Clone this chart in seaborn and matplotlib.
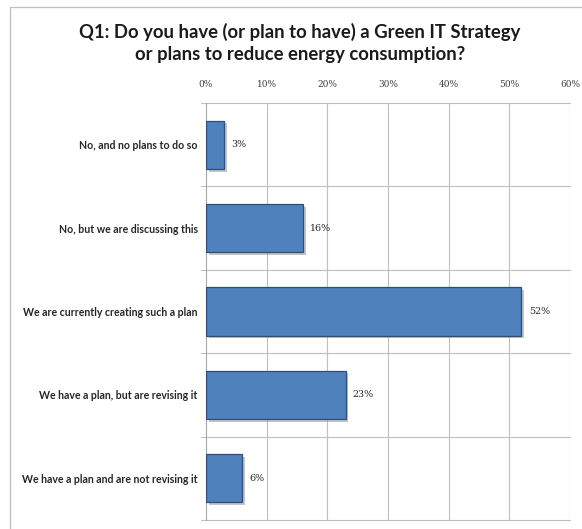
import matplotlib
matplotlib.use("Agg")
import matplotlib.pyplot as plt
import matplotlib.patheffects as pe
import seaborn as sns
import pandas as pd

categories = [
    "No, and no plans to do so",
    "No, but we are discussing this",
    "We are currently creating such a plan",
    "We have a plan, but are revising it",
    "We have a plan and are not revising it",
]
values = [3, 16, 52, 23, 6]
x_ticks = [0, 10, 20, 30, 40, 50, 60]
x_tick_labels = [f"{t}%" for t in x_ticks]
title = "Q1: Do you have (or plan to have) a Green IT Strategy\nor plans to reduce energy consumption?"

df = pd.DataFrame({"category": categories, "value": values})

sns.set_theme(style="white")
plt.rcParams["font.family"] = ["Lato", "DejaVu Sans"]

fig = plt.figure(figsize=(5.82, 5.29), dpi=100)
ax = fig.add_axes([206 / 582, 1 - 520 / 529, 364 / 582, 417 / 529])

sns.barplot(data=df, x="value", y="category", orient="h", color="#4F81BD",
            saturation=1, width=0.58, ax=ax, zorder=3)
for bar in ax.patches:
    bar.set_edgecolor("#2F4F7A")
    bar.set_linewidth(0.9)
    bar.set_path_effects([pe.SimplePatchShadow(offset=(2, -2), shadow_rgbFace="#808080", alpha=0.45),
                          pe.Normal()])

ax.set_xlim(0, 60)
ax.set_ylim(len(categories) - 0.5, -0.5)
ax.set_xticks(x_ticks)
ax.set_xticklabels(x_tick_labels, fontsize=6.5, color="#404040", family=["DejaVu Serif"])
ax.xaxis.tick_top()
ax.tick_params(axis="x", length=0, pad=10, top=True, bottom=False)

# vertical gridlines
for t in x_ticks[1:]:
    ax.axvline(t, color="#BFBFBF", lw=0.8, zorder=1)

# horizontal separators between categories, with small tick stubs to the left
for b in [i - 0.5 for i in range(len(categories) + 1)]:
    ax.plot([-0.9, 60], [b, b], color="#BFBFBF", lw=0.8, zorder=1, clip_on=False)

ax.set_yticks(range(len(categories)))
ax.set_yticklabels(categories, fontsize=7.6, color="#262626", fontweight="bold")
ax.tick_params(axis="y", length=0, pad=6)
ax.set_xlabel("")
ax.set_ylabel("")

for s in ["top", "right", "bottom"]:
    ax.spines[s].set_visible(False)
ax.spines["left"].set_color("#A6A6A6")
ax.spines["left"].set_linewidth(0.8)

for i, v in enumerate(values):
    ax.text(v + 1.2, i, f"{v}%", va="center", ha="left", fontsize=6.8,
            color="#262626", family=["DejaVu Serif"])

fig.text(0.515, 1 - 43 / 529, title, ha="center", va="center", fontsize=13.3,
         fontweight="bold", color="#1a1a1a", linespacing=1.4)

# outer chart frame
fig.add_artist(plt.Rectangle((10 / 582, -0.01), 1.0, 1 - 7 / 529 + 0.01,
                             transform=fig.transFigure, fill=False,
                             edgecolor="#BFBFBF", lw=0.9))

fig.savefig("out.png", dpi=100)
